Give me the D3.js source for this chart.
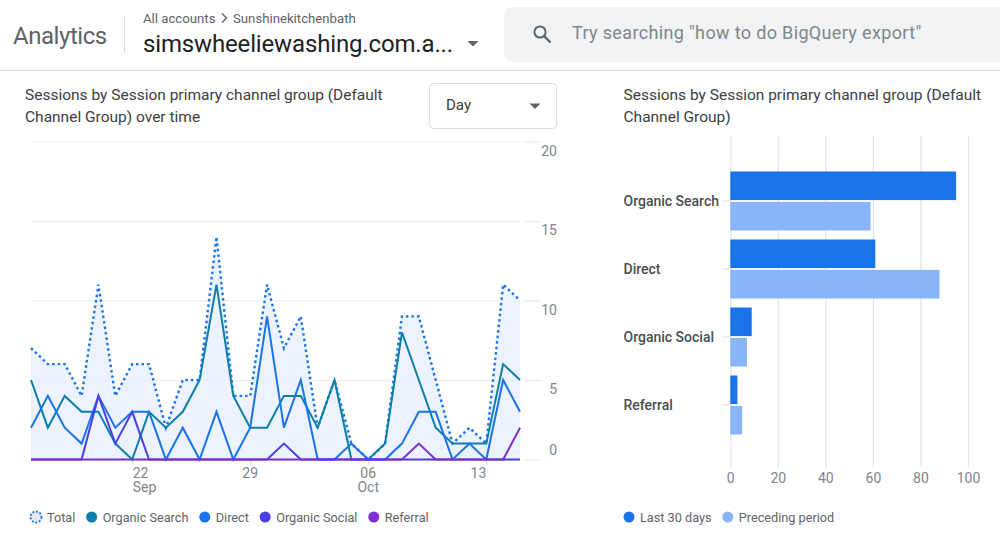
<!DOCTYPE html>
<html>
<head>
<meta charset="utf-8">
<script src="https://d3js.org/d3.v7.min.js"></script>
<style>
  html, body { margin: 0; padding: 0; background: #fff; overflow: hidden; }
  text { font-family: Roboto, sans-serif; }
</style>
</head>
<body>
<script>
"use strict";

const WIDTH = 1000
const HEIGHT = 550

// values, one entry a day from 16 Sep to 15 Oct
const total =         [7, 6, 6, 4, 11, 4, 6, 6, 2, 5, 5, 14, 4, 4, 11, 7, 9, 2, 5, 1, 0, 1, 9, 9, 5, 1, 2, 1, 11, 10]
const organicSearch = [5, 2, 4, 3, 3, 1, 0, 3, 2, 3, 5, 11, 4, 2, 2, 4, 4, 2, 5, 0, 0, 1, 8, 5, 2, 1, 1, 1, 6, 5]
const direct =        [2, 4, 2, 1, 4, 2, 3, 3, 0, 2, 0, 3, 0, 2, 9, 2, 5, 0, 0, 1, 0, 0, 1, 3, 3, 0, 1, 0, 5, 3]
const organicSocial = [0, 0, 0, 0, 4, 1, 3, 0, 0, 0, 0, 0, 0, 0, 0, 1, 0, 0, 0, 0, 0, 0, 0, 0, 0, 0, 0, 0, 0, 0]
const referral =      [0, 0, 0, 0, 0, 0, 0, 0, 0, 0, 0, 0, 0, 0, 0, 0, 0, 0, 0, 0, 0, 0, 0, 1, 0, 0, 0, 0, 0, 2]

const yTicks = [0, 5, 10, 15, 20]
const xTickDates = [new Date(Date.UTC(2023, 8, 22)), new Date(Date.UTC(2023, 8, 29)), new Date(Date.UTC(2023, 9, 6)), new Date(Date.UTC(2023, 9, 13))]
const xTickDays = ["22", "29", "06", "13"]
const xTickMonths = ["Sep", "", "Oct", ""]
const xTickAnchors = ["start", "middle", "middle", "end"]

const channels = ["Organic Search", "Direct", "Organic Social", "Referral"]
const last30 = [95, 61, 9, 3]
const preceding = [59, 88, 7, 5]
const barTicks = [0, 20, 40, 60, 80, 100]

const COL_TOTAL = "#1a73e8"
const lineSeries = [
    { name: "Organic Search", values: organicSearch, color: "#0c7fa8" },
    { name: "Direct", values: direct, color: "#1a73e8" },
    { name: "Organic Social", values: organicSocial, color: "#4a3fe4" },
    { name: "Referral", values: referral, color: "#7b2fd0" },
]
const barSeries = [
    { name: "Last 30 days", values: last30, color: "#1a73e8" },
    { name: "Preceding period", values: preceding, color: "#8ab4f8" },
]

const svg = d3.select("body").append("svg")
    .attr("width", WIDTH)
    .attr("height", HEIGHT)
    .attr("viewBox", `0 0 ${WIDTH} ${HEIGHT}`)
    .style("display", "block")

function label(x, y, str, size, color) {
    return svg.append("text")
        .attr("x", x)
        .attr("y", y)
        .attr("font-size", size)
        .attr("fill", color)
        .text(str)
}

function triangle(cx, cy, color) {
    svg.append("path")
        .attr("d", `M${cx - 5.5},${cy - 2.5}h11l-5.5,5.5z`)
        .attr("fill", color)
}

// circles and names laid out one after the other
function legend(x, y, items, gap) {
    let cursor = x
    items.forEach(item => {
        const dot = svg.append("circle")
            .attr("cx", cursor + 5.5)
            .attr("cy", y)
            .attr("r", 5.5)
            .attr("fill", item.dotted ? "#e8eaed" : item.color)
        if (item.dotted) {
            dot.attr("stroke", item.color)
                .attr("stroke-width", 1.8)
                .attr("stroke-dasharray", "2 1.6")
        }
        const t = label(cursor + 16.5, y + 4.6, item.name, 12.7, "#5f6368")
        cursor += 16.5 + t.node().getComputedTextLength() + gap
    })
}

function drawHeader() {
    label(13, 43.5, "Analytics", 24, "#5f6368").attr("letter-spacing", -0.45)
    svg.append("line")
        .attr("x1", 124.5).attr("x2", 124.5)
        .attr("y1", 16).attr("y2", 53)
        .attr("stroke", "#dadce0")
    label(143, 22.5, "All accounts", 13.2, "#5f6368")
    svg.append("path")
        .attr("d", "M222,13.5l4.5,4.5l-4.5,4.5")
        .attr("fill", "none")
        .attr("stroke", "#5f6368")
        .attr("stroke-width", 1.4)
    label(233, 22.5, "Sunshinekitchenbath", 13.2, "#5f6368")
    label(143, 52, "simswheeliewashing.com.a...", 24, "#202124").attr("letter-spacing", -0.15)
    triangle(473, 43.5, "#5f6368")

    svg.append("rect")
        .attr("x", 504).attr("y", 7)
        .attr("width", 510).attr("height", 55)
        .attr("rx", 8)
        .attr("fill", "#f1f3f4")
    svg.append("circle")
        .attr("cx", 540).attr("cy", 32)
        .attr("r", 5.6)
        .attr("fill", "none")
        .attr("stroke", "#5f6368")
        .attr("stroke-width", 2)
    svg.append("line")
        .attr("x1", 544).attr("y1", 36)
        .attr("x2", 550.5).attr("y2", 42.5)
        .attr("stroke", "#5f6368")
        .attr("stroke-width", 2.4)
    label(572, 39, "Try searching \"how to do BigQuery export\"", 18, "#80868b").attr("letter-spacing", 0.35)

    svg.append("line")
        .attr("x1", 0).attr("x2", WIDTH)
        .attr("y1", 70.5).attr("y2", 70.5)
        .attr("stroke", "#dadce0")
}

function drawLineChart() {
    label(25, 100, "Sessions by Session primary channel group (Default", 15.5, "#3c4043")
    label(25, 122, "Channel Group) over time", 15.5, "#3c4043")

    svg.append("rect")
        .attr("x", 429.5).attr("y", 83.5)
        .attr("width", 127).attr("height", 45)
        .attr("rx", 4)
        .attr("fill", "#fff")
        .attr("stroke", "#dadce0")
    label(446, 110, "Day", 15, "#3c4043")
    triangle(535, 106, "#5f6368")

    const x = d3.scaleUtc()
        .domain([new Date(Date.UTC(2023, 8, 16)), new Date(Date.UTC(2023, 9, 15))])
        .range([31, 520])
    const y = d3.scaleLinear().domain([0, 20]).range([459.5, 141.5])
    const day = i => d3.utcDay.offset(x.domain()[0], i)

    // grid comes out of the axis, with a short second piece beside the labels
    const yAxis = svg.append("g")
        .attr("transform", "translate(31,0)")
        .call(d3.axisRight(y).tickValues(yTicks).tickSize(489).tickFormat(d => d))
    yAxis.select(".domain").remove()
    yAxis.selectAll("line").attr("stroke", "#ebedef").attr("stroke-width", 1.2)
    yAxis.selectAll(".tick").append("line")
        .attr("x1", 493).attr("x2", 510)
        .attr("stroke", "#ebedef")
        .attr("stroke-width", 1.2)
    yAxis.selectAll("text")
        .attr("x", 526)
        .attr("dy", d => d === 0 ? -5 : 13.5)
        .attr("text-anchor", "end")
        .attr("font-size", 14)
        .attr("font-family", "Roboto, sans-serif")
        .attr("fill", "#80868b")

    const xAxis = svg.append("g")
        .attr("transform", "translate(0,459.5)")
        .call(d3.axisBottom(x).tickValues(xTickDates).tickSize(6).tickFormat(""))
    xAxis.select(".domain").remove()
    xAxis.selectAll("line").attr("stroke", "#dadce0")
    xAxis.selectAll("text").remove()
    xTickDates.forEach((d, i) => {
        label(x(d) + (xTickAnchors[i] === "start" ? 0.5 : 0), 478, xTickDays[i], 14, "#80868b")
            .attr("text-anchor", xTickAnchors[i])
        if (xTickMonths[i]) {
            label(x(d) + (xTickAnchors[i] === "start" ? 0.5 : 0), 492, xTickMonths[i], 14, "#80868b")
                .attr("text-anchor", xTickAnchors[i])
        }
    })

    svg.append("path")
        .attr("d", d3.area().x((d, i) => x(day(i))).y0(y(0)).y1(d => y(d))(total))
        .attr("fill", "#e8f0fe")
        .attr("fill-opacity", 0.8)

    const line = d3.line().x((d, i) => x(day(i))).y(d => y(d))
    svg.append("path")
        .attr("d", line(total))
        .attr("fill", "none")
        .attr("stroke", COL_TOTAL)
        .attr("stroke-width", 2.4)
        .attr("stroke-dasharray", "2.5 3")

    lineSeries.forEach(s => {
        svg.append("path")
            .attr("d", line(s.values))
            .attr("fill", "none")
            .attr("stroke", s.color)
            .attr("stroke-width", 2)
            .attr("stroke-linejoin", "miter")
    })

    legend(30.5, 517, [{ name: "Total", color: COL_TOTAL, dotted: true }].concat(lineSeries), 10.8)
}

function drawBarChart() {
    label(623.5, 100, "Sessions by Session primary channel group (Default", 15.5, "#3c4043")
    label(623.5, 122, "Channel Group)", 15.5, "#3c4043")

    const x = d3.scaleLinear().domain([0, 100]).range([730.3, 968])
    const y0 = d3.scaleBand().domain(channels).range([167, 439])
    const y1 = d3.scaleBand()
        .domain(barSeries.map(s => s.name))
        .range([4.5, 63.5])
        .paddingInner(0.06)

    const xAxis = svg.append("g")
        .attr("transform", "translate(0,467)")
        .call(d3.axisBottom(x).tickValues(barTicks).tickSize(-331).tickFormat(d => d))
    xAxis.select(".domain").remove()
    xAxis.selectAll("line").attr("stroke", "#e3e5e8").attr("stroke-width", 1.3)
    xAxis.selectAll("text")
        .attr("y", 6)
        .attr("font-size", 14)
        .attr("font-family", "Roboto, sans-serif")
        .attr("fill", "#80868b")

    const yAxis = svg.append("g")
        .attr("transform", "translate(730,0)")
        .call(d3.axisLeft(y0).tickSize(7).tickPadding(1))
    yAxis.select(".domain").remove()
    yAxis.selectAll("line").attr("stroke", "#dadce0")
    yAxis.selectAll("text")
        .attr("x", -106.5)
        .attr("y", 1)
        .attr("text-anchor", "start")
        .attr("font-size", 14)
        .attr("font-weight", 500)
        .attr("font-family", "Roboto, sans-serif")
        .attr("fill", "#4a4e52")

    barSeries.forEach(s => {
        svg.append("g").selectAll("rect")
            .data(s.values)
            .join("rect")
            .attr("x", x(0))
            .attr("y", (d, i) => y0(channels[i]) + y1(s.name))
            .attr("width", d => x(d) - x(0))
            .attr("height", y1.bandwidth())
            .attr("fill", s.color)
    })

    legend(623.5, 517, barSeries, 10.8)
}

drawHeader()
drawLineChart()
drawBarChart()
</script>
</body>
</html>
